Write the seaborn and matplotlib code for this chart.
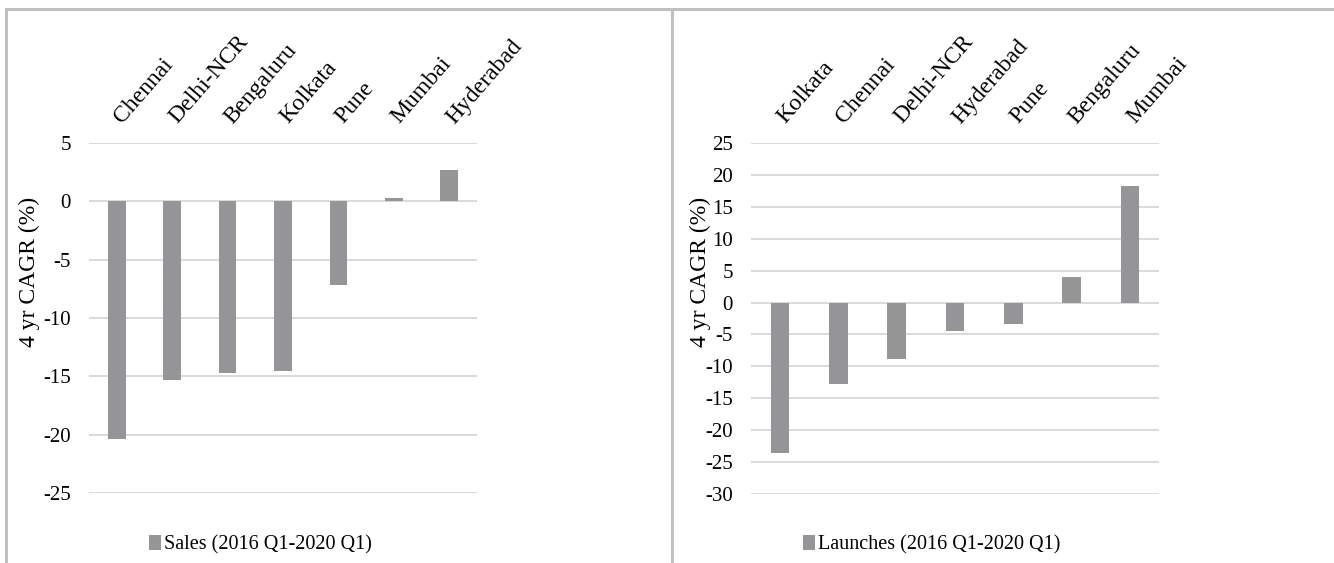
import matplotlib
matplotlib.use("Agg")
import matplotlib.pyplot as plt
import matplotlib.transforms as mtransforms
from matplotlib.lines import Line2D
from matplotlib.patches import Patch
import seaborn as sns
import pandas as pd

# CAGR data (%)
sales_cities = ["Chennai", "Delhi-NCR", "Bengaluru", "Kolkata", "Pune", "Mumbai", "Hyderabad"]
sales_values = [-20.4, -15.3, -14.7, -14.5, -7.2, 0.3, 2.7]

launch_cities = ["Kolkata", "Chennai", "Delhi-NCR", "Hyderabad", "Pune", "Bengaluru", "Mumbai"]
launch_values = [-23.5, -12.8, -8.9, -4.5, -3.4, 4.0, 18.2]

sales_ticks = [5, 0, -5, -10, -15, -20, -25]
launch_ticks = [25, 20, 15, 10, 5, 0, -5, -10, -15, -20, -25, -30]

sales_label = "Sales (2016 Q1-2020 Q1)"
launch_label = "Launches (2016 Q1-2020 Q1)"
y_label = "4 yr CAGR (%)"

sns.set_theme(style="white")
plt.rcParams["font.family"] = ["Liberation Serif", "DejaVu Serif"]

BAR = "#959597"
GRID = "#d9d9d9"
FRAME = "#c0c0c0"
TXT = "#000000"
FS = 15

W, H = 1334, 563
fig = plt.figure(figsize=(W / 100, H / 100), dpi=100)
fig.patch.set_facecolor("white")
shift = mtransforms.ScaledTranslation(9 / 100, 0, fig.dpi_scale_trans)


def panel(rect, cities, values, ticks, legend_text, legend_x, ylab_xy):
    ax = fig.add_axes(rect)
    df = pd.DataFrame({"city": cities, "value": values})
    sns.barplot(data=df, x="city", y="value", order=cities, color=BAR,
                saturation=1, width=0.32, ax=ax, edgecolor="none")
    ax.set_xlim(-0.5, len(cities) - 0.5)
    ax.set_ylim(min(ticks), max(ticks))
    ax.set_yticks(ticks)
    ax.set_yticklabels([str(t) for t in ticks], fontsize=FS, color=TXT)
    ax.yaxis.grid(True, color=GRID, lw=1.4)
    ax.xaxis.grid(False)
    ax.set_axisbelow(True)
    for s in ax.spines.values():
        s.set_visible(False)
    ax.tick_params(axis="y", length=0, pad=13)
    ax.xaxis.tick_top()
    ax.tick_params(axis="x", length=0, pad=11)
    ax.set_xticks(range(len(cities)))
    ax.set_xticklabels(cities, rotation=49, ha="left", va="bottom",
                       rotation_mode="anchor", fontsize=17, color=TXT)
    for lab in ax.get_xticklabels():
        lab.set_transform(lab.get_transform() + shift)
    ax.set_xlabel("")
    ax.set_ylabel(y_label, fontsize=17, color=TXT)
    ax.yaxis.set_label_coords(*ylab_xy)
    handle = Patch(facecolor=BAR, edgecolor="none")
    fig.legend([handle], [legend_text], loc="center",
               bbox_to_anchor=(legend_x, 1 - 545 / H), frameon=False,
               fontsize=14.5, handlelength=0.6, handleheight=0.75,
               handletextpad=0.15, labelcolor=TXT)
    return ax


panel([89 / W, 1 - 493 / H, 388 / W, 350 / H], sales_cities, sales_values,
      sales_ticks, sales_label, 260 / W, (-0.125, 0.631))
panel([751 / W, 1 - 494 / H, 408 / W, 351 / H], launch_cities, launch_values,
      launch_ticks, launch_label, 932 / W, (-0.099, 0.632))

# chart-area frame lines
top = 1 - 9 / H
fig.add_artist(Line2D([6 / W, 1], [top, top], color=FRAME, lw=2.2,
                      transform=fig.transFigure))
fig.add_artist(Line2D([6 / W, 6 / W], [0, top], color=FRAME, lw=2.2,
                      transform=fig.transFigure))
fig.add_artist(Line2D([672 / W, 672 / W], [0, top], color=FRAME, lw=2.2,
                      transform=fig.transFigure))

fig.savefig("out.png", dpi=100, facecolor="white")
